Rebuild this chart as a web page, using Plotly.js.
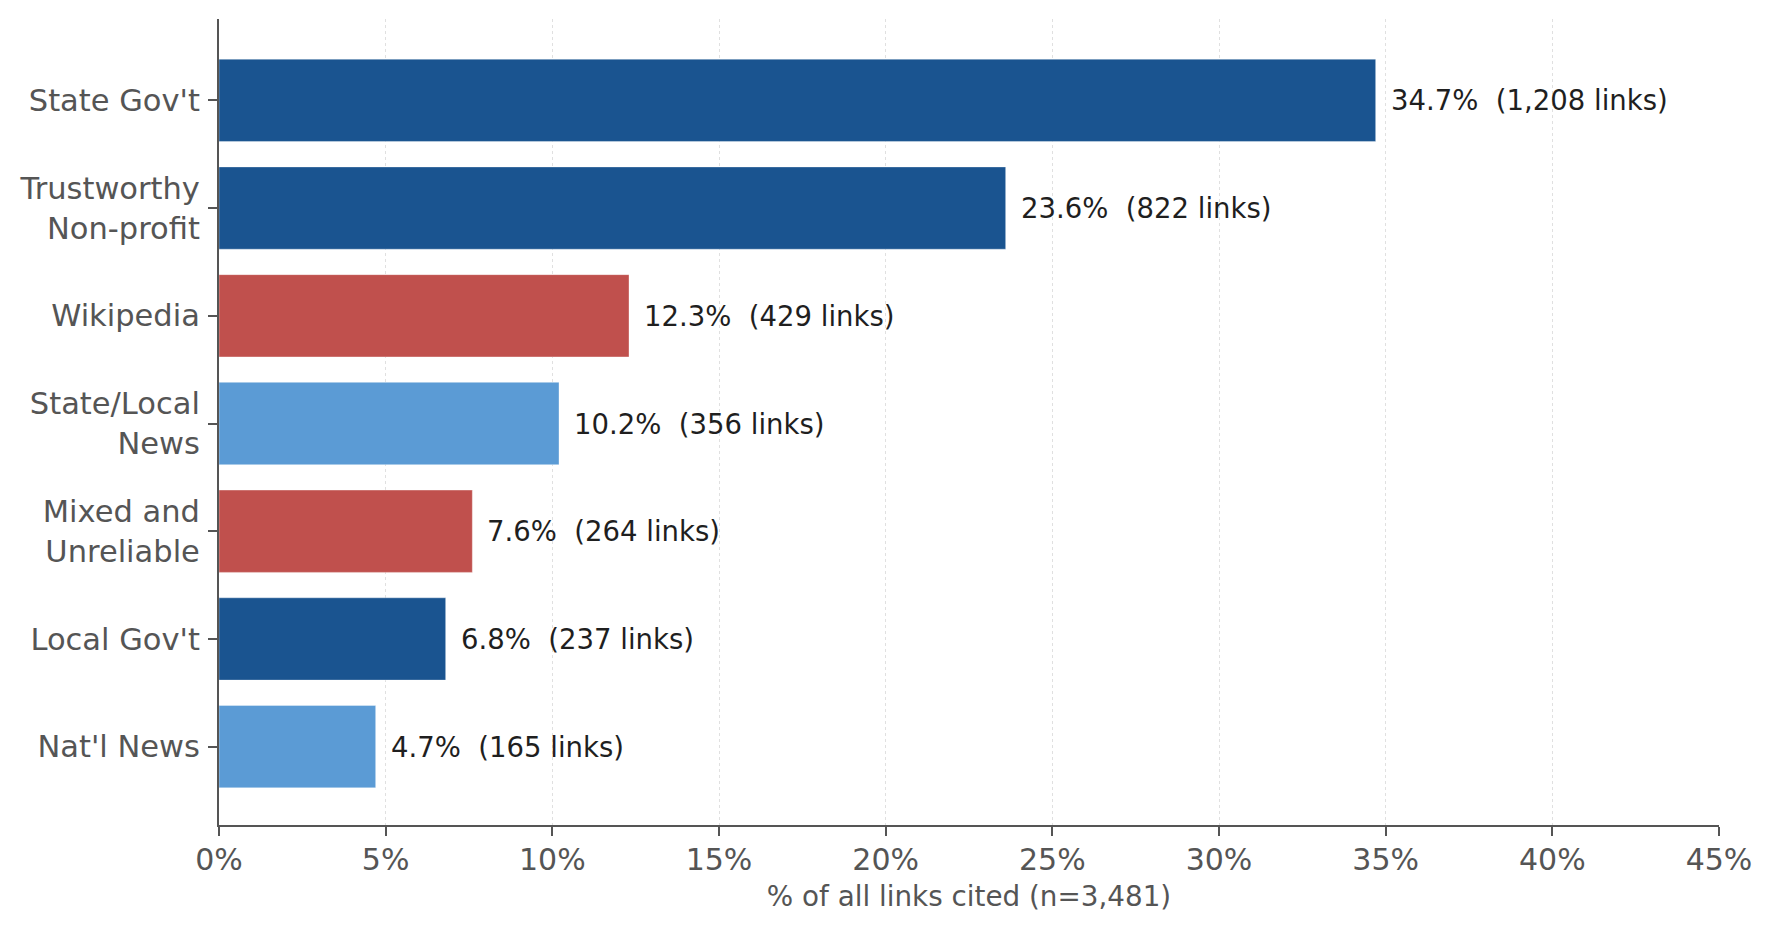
<!DOCTYPE html>
<html>
<head>
<meta charset="utf-8">
<script src="https://cdn.plot.ly/plotly-3.0.1.min.js"></script>
<style>
  html, body { margin: 0; padding: 0; background: #ffffff; }
  #chart { width: 1773px; height: 933px; }
</style>
</head>
<body>
<div id="chart"></div>
<script>
// ---- Data ----
const categories = ["State Gov't", "Trustworthy<br>Non-profit", "Wikipedia", "State/Local<br>News", "Mixed and<br>Unreliable", "Local Gov't", "Nat'l News"];
const percentValues = [34.7, 23.6, 12.3, 10.2, 7.6, 6.8, 4.7];
const linkCounts = [1208, 822, 429, 356, 264, 237, 165];
const barColors = ["#1a5490", "#1a5490", "#c0504d", "#5b9bd5", "#c0504d", "#1a5490", "#5b9bd5"];
const xTickValues = [0, 5, 10, 15, 20, 25, 30, 35, 40, 45];
const xTickLabels = ["0%", "5%", "10%", "15%", "20%", "25%", "30%", "35%", "40%", "45%"];
const xAxisTitle = "% of all links cited (n=3,481)";

const FONT = "DejaVu Sans, Verdana, sans-serif";

const barLabels = percentValues.map((p, i) =>
  p.toFixed(1) + "%\u00a0 (" + linkCounts[i].toLocaleString("en-US") + " links)");

const trace = {
  type: "bar",
  orientation: "h",
  x: percentValues,
  y: categories,
  marker: { color: barColors, line: { color: "rgba(255,255,255,0.35)", width: 1 } },
  hoverinfo: "skip",
  cliponaxis: false
};

const annotations = percentValues.map((p, i) => ({
  x: p, y: categories[i], xref: "x", yref: "y",
  text: barLabels[i], showarrow: false,
  xanchor: "left", yanchor: "middle", xshift: 13,
  font: { family: FONT, size: 27.5, color: "#1f1f1f" }
}));

const layout = {
  width: 1773, height: 933,
  paper_bgcolor: "#ffffff", plot_bgcolor: "#ffffff",
  margin: { l: 219, r: 54, t: 19, b: 108 },
  showlegend: false,
  bargap: 0.236,
  font: { family: FONT, color: "#555555" },
  xaxis: {
    range: [0, 45],
    tickvals: xTickValues, ticktext: xTickLabels,
    tickfont: { family: FONT, size: 30, color: "#555555" },
    ticks: "outside", ticklen: 9, tickwidth: 2, tickcolor: "#555555",
    showline: true, linecolor: "#555555", linewidth: 2,
    showgrid: true, gridcolor: "#e0e0e0", gridwidth: 1, griddash: "dot",
    zeroline: false, fixedrange: true,
    ticklabelstandoff: -2,
    title: { text: xAxisTitle, font: { family: FONT, size: 27.8, color: "#555555" }, standoff: 11 },
    automargin: false
  },
  yaxis: {
    type: "category",
    range: [6.727, -0.755],
    tickfont: { family: FONT, size: 30.5, color: "#555555" },
    ticks: "outside", ticklen: 9, tickwidth: 2, tickcolor: "#555555",
    showline: true, linecolor: "#555555", linewidth: 2,
    showgrid: false, zeroline: false, fixedrange: true,
    ticklabelstandoff: 2,
    automargin: false
  },
  annotations: annotations
};

Plotly.newPlot("chart", [trace], layout, { staticPlot: true, displayModeBar: false });
</script>
</body>
</html>
